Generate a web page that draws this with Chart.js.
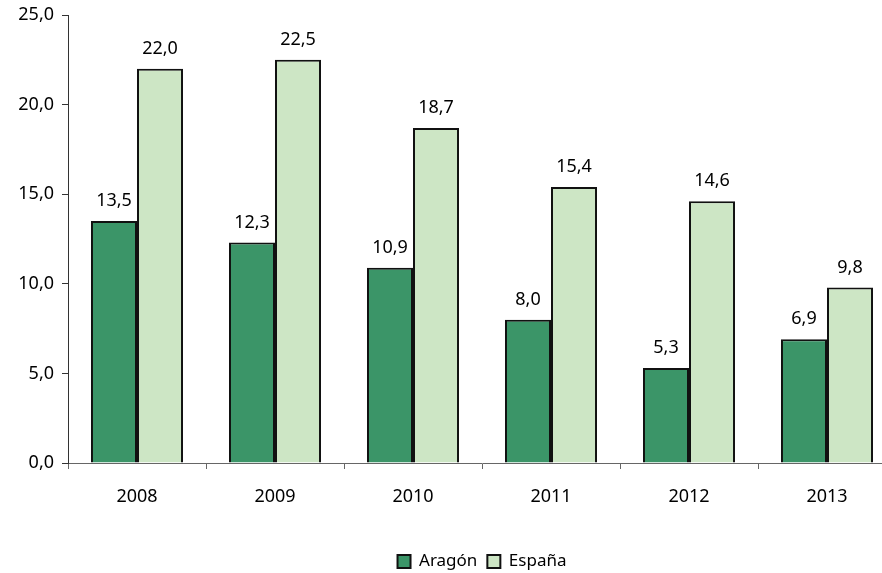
<!DOCTYPE html>
<html>
<head>
<meta charset="utf-8">
<script src="https://cdn.jsdelivr.net/npm/chart.js@4"></script>
<style>
  html, body { margin: 0; padding: 0; overflow: hidden; background: #fff; }
  #wrap { width: 900px; height: 573px; }
</style>
</head>
<body>
<div id="wrap"><canvas id="myChart" width="900" height="573"></canvas></div>
<script>
const years = ["2008", "2009", "2010", "2011", "2012", "2013"];
const aragon = [13.5, 12.3, 10.9, 8.0, 5.3, 6.9];
const espana = [22.0, 22.5, 18.7, 15.4, 14.6, 9.8];
const seriesNames = ["Aragón", "España"];

const FONT = "'Noto Sans', sans-serif";
const fmt = (v) => v.toFixed(1).replace(".", ",");

// labels above every bar
const valueLabels = {
  id: "valueLabels",
  afterDatasetsDraw(chart) {
    const ctx = chart.ctx;
    ctx.save();
    ctx.font = "18px " + FONT;
    ctx.fillStyle = "#000";
    ctx.textAlign = "center";
    ctx.textBaseline = "bottom";
    chart.data.datasets.forEach((ds, i) => {
      chart.getDatasetMeta(i).data.forEach((bar, j) => {
        ctx.fillText(fmt(ds.data[j]), bar.x, bar.y - 11);
      });
    });
    ctx.restore();
  },
};

// legend sits centred under the plot area, a bit lower than chart.js puts it
const shiftLegend = {
  id: "shiftLegend",
  afterLayout(chart) {
    const lg = chart.legend;
    const d = (chart.chartArea.left + chart.chartArea.right) / 2 - (lg.left + lg.right) / 2;
    lg.left += d;
    lg.right += d;
    lg.top += 7;
    lg.bottom += 7;
  },
};

const ctx = document.getElementById("myChart").getContext("2d");
new Chart(ctx, {
  type: "bar",
  data: {
    labels: years,
    datasets: [
      {
        label: seriesNames[0],
        data: aragon,
        backgroundColor: "#3b9568",
        borderColor: "#111",
        borderWidth: 2,
      },
      {
        label: seriesNames[1],
        data: espana,
        backgroundColor: "#cde6c5",
        borderColor: "#111",
        borderWidth: 2,
      },
    ],
  },
  options: {
    responsive: false,
    animation: false,
    layout: { padding: { top: 2, right: 4, left: 0, bottom: 0 } },
    datasets: {
      bar: { categoryPercentage: 0.667, barPercentage: 1.0 },
    },
    plugins: {
      tooltip: { enabled: false },
      legend: {
        position: "bottom",
        labels: {
          color: "#000",
          font: { family: FONT, size: 17 },
          boxWidth: 13,
          boxHeight: 13,
          padding: 10,
        },
      },
    },
    scales: {
      x: {
        afterFit(scale) { scale.height = 73; },
        grid: { drawOnChartArea: false, drawTicks: true, tickLength: 6, color: "#666" },
        border: { color: "#666" },
        ticks: { color: "#000", font: { family: FONT, size: 18 }, padding: 17 },
      },
      y: {
        min: 0,
        max: 25,
        afterFit(scale) {
          scale.width = 68;
          scale.paddingTop = 15;
        },
        grid: { drawOnChartArea: false, drawTicks: true, tickLength: 6, color: "#333" },
        border: { color: "#333" },
        ticks: {
          stepSize: 5,
          color: "#000",
          font: { family: FONT, size: 18 },
          padding: 8,
          callback: (v) => fmt(v),
        },
      },
    },
  },
  plugins: [valueLabels, shiftLegend],
});
</script>
</body>
</html>
